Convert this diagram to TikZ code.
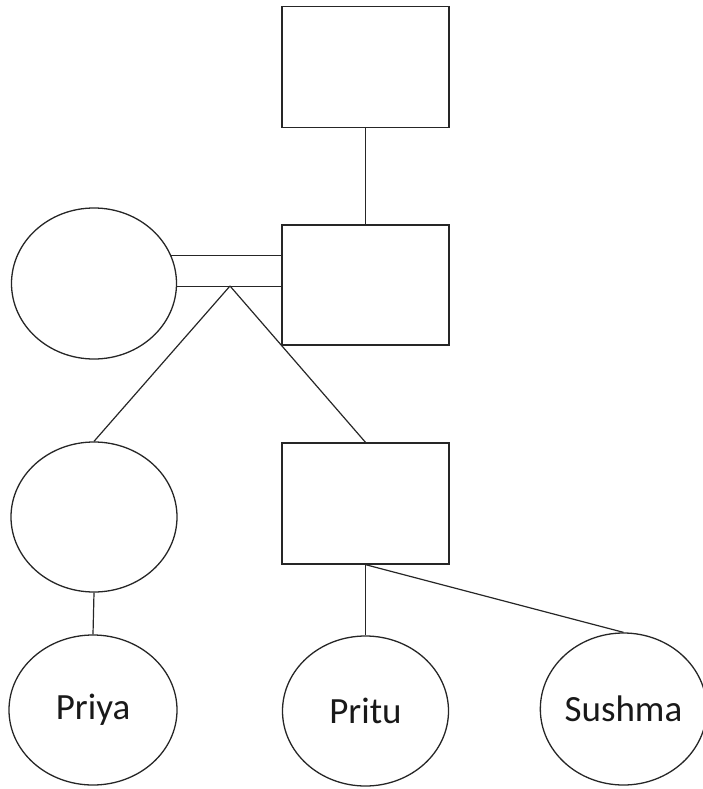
\documentclass[tikz,border=0pt]{standalone}
\usepackage{fontspec}
\setmainfont{Carlito}
\usetikzlibrary{shapes.geometric}
\tikzset{
  box/.style={draw=black!85, line width=1.3pt, minimum width=167pt, minimum height=121pt, inner sep=0pt},
  oval/.style={draw=black!85, line width=1.3pt, ellipse, minimum width=166pt, minimum height=150pt, inner sep=0pt, font=\fontsize{37}{40}\selectfont, text=black!90},
  link/.style={draw=black!85, line width=1.2pt}
}
\begin{document}
\begin{tikzpicture}[x=1pt,y=-1pt]
\useasboundingbox (0,0) rectangle (703,789);
\node[box] (T) at (365.5,67) {};
\node[box, minimum height=120pt] (M) at (365.5,285) {};
\node[oval, minimum width=165pt, minimum height=151pt] (L) at (94,283.5) {};
\node[oval] (E) at (94,517) {};
\node[box] (R) at (365.5,503.5) {};
\node[oval, minimum width=168pt] (Priya) at (93,710) {Priya};
\node[oval] (Pritu) at (365.5,711) {Pritu};
\node[oval, minimum width=157pt, minimum height=152pt] (Sushma) at (623.5,709) {Sushma};
\draw[link] (T.south) -- (M.north);
\draw[link] (L.20) -- (L.20 -| M.west);
\draw[link] (L.-2) -- (L.-2 -| M.west);
\coordinate (apex) at (230,286);
\draw[link] (apex) -- (E.north);
\draw[link] (apex) -- (R.north);
\draw[link] (E.south) -- (Priya.north);
\draw[link] (R.south) -- (Pritu.north);
\draw[link] (R.south) -- (Sushma.north);
\end{tikzpicture}
\end{document}
